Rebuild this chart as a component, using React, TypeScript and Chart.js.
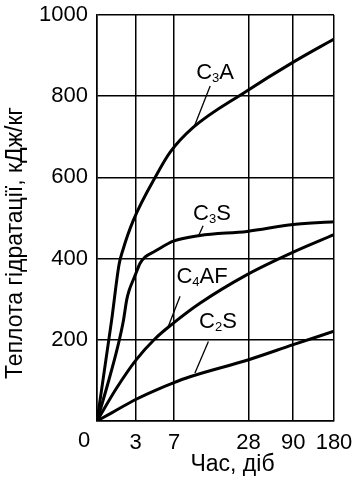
import React, { useEffect, useRef } from 'react';
import { Chart, registerables, LinearScale } from 'chart.js';

// ---- Axis ticks (days) ----
const TICK_DAYS = [0, 3, 7, 28, 90, 180];
const TICK_LABELS = ['0', '3', '7', '28', '90', '180'];
// where each tick day sits along the (non-uniform) time axis, as a fraction of its length
const TICK_FRACTIONS = [0, 0.163, 0.325, 0.639, 0.828, 1];

const Y_TICKS_STEP = 200;
const Y_MAX = 1000;

// ---- Series (x: days, y: kJ/kg) ----
const c3aDays = [0, 1.14, 1.71, 2.0, 2.82, 5.2, 6.6, 12.4, 27, 90, 180];
const c3aHeat = [0, 249, 385, 420, 494, 607, 662, 723, 810, 884, 941];

const c3sDays = [0, 0.78, 1.61, 2.06, 2.31, 2.5, 2.82, 3.1, 3.45, 4.0, 5.0, 6.93, 14.3, 27.6, 90, 180];
const c3sHeat = [0, 85, 183, 249, 299, 322, 348, 368, 388, 404, 418, 443, 457, 467, 484, 491];

const c4afDays = [0, 1.5, 3.03, 5.0, 6.93, 14.3, 27.5, 90, 180];
const c4afHeat = [0, 80, 150, 202, 241, 290, 360, 416, 459];

const c2sDays = [0, 1.14, 3.0, 5.0, 6.93, 11.5, 28.3, 90, 180];
const c2sHeat = [0, 20, 53, 75, 94, 109, 151, 188, 221];

const SERIES_NAMES = ['C₃A', 'C₃S', 'C₄AF', 'C₂S'];

// ---- Curve labels: [main, subscript, main], centre and leader line in data coords ----
const LABEL_PARTS = [
  ['C', '3', 'A'],
  ['C', '3', 'S'],
  ['C', '4', 'AF'],
  ['C', '2', 'S'],
];
const LABEL_CENTER_DAYS = [18.6, 17.7, 14.9, 19.4];
const LABEL_CENTER_HEAT = [862, 514, 360, 249];
const LEADER_FROM_DAYS = [17.2, 15.2, 8.7, 16.7];
const LEADER_FROM_HEAT = [825, 481, 307, 196];
const LEADER_TO_DAYS = [12.6, 13.8, 6.4, 12.9];
const LEADER_TO_HEAT = [723, 454, 233, 118];

const Y_TITLE = 'Теплота гідратації, кДж/кг';
const X_TITLE = 'Час, діб';

const FONT_FAMILY = '"Liberation Sans", Arial, Helvetica, sans-serif';
const INK = '#000';

function dayToAxis(d: number | null): number | null {
  if (d === null || d === undefined || isNaN(d as number)) return d as any;
  const v = d as number;
  const max = TICK_DAYS[TICK_DAYS.length - 1];
  for (let i = 1; i < TICK_DAYS.length; i++) {
    if (v <= TICK_DAYS[i] || i === TICK_DAYS.length - 1) {
      const t = (v - TICK_DAYS[i - 1]) / (TICK_DAYS[i] - TICK_DAYS[i - 1]);
      const f = TICK_FRACTIONS[i - 1] + t * (TICK_FRACTIONS[i] - TICK_FRACTIONS[i - 1]);
      return f * max;
    }
  }
  return v;
}

function axisToDay(a: number): number {
  const max = TICK_DAYS[TICK_DAYS.length - 1];
  const f = a / max;
  for (let i = 1; i < TICK_FRACTIONS.length; i++) {
    if (f <= TICK_FRACTIONS[i] || i === TICK_FRACTIONS.length - 1) {
      const t = (f - TICK_FRACTIONS[i - 1]) / (TICK_FRACTIONS[i] - TICK_FRACTIONS[i - 1]);
      return TICK_DAYS[i - 1] + t * (TICK_DAYS[i] - TICK_DAYS[i - 1]);
    }
  }
  return a;
}

class PiecewiseDayScale extends LinearScale {
  static id = 'piecewiseDay';
  static defaults = (LinearScale as any).defaults;
  getPixelForValue(value: any) {
    return super.getPixelForValue(dayToAxis(value) as any);
  }
  getValueForPixel(pixel: number) {
    return axisToDay(super.getValueForPixel(pixel) as number);
  }
}

Chart.register(...registerables, PiecewiseDayScale as any);

function toPoints(days: number[], heat: number[]) {
  return days.map((d, i) => ({ x: d, y: heat[i] }));
}

function drawSubLabel(ctx: CanvasRenderingContext2D, parts: string[], cx: number, cy: number) {
  const mainFont = `22px ${FONT_FAMILY}`;
  const subFont = `13px ${FONT_FAMILY}`;
  const widths = parts.map((p, i) => {
    ctx.font = i === 1 ? subFont : mainFont;
    return ctx.measureText(p).width;
  });
  const total = widths.reduce((a, b) => a + b, 0);
  let x = cx - total / 2;
  const baseline = cy + 8;
  ctx.textAlign = 'left';
  ctx.textBaseline = 'alphabetic';
  parts.forEach((p, i) => {
    ctx.font = i === 1 ? subFont : mainFont;
    ctx.fillText(p, x, i === 1 ? baseline + 3 : baseline);
    x += widths[i];
  });
}

const annotationPlugin = {
  id: 'hydrationAnnotations',
  afterDraw(chart: any) {
    const { ctx, chartArea } = chart;
    const xs = chart.scales.x;
    const ys = chart.scales.y;
    ctx.save();
    ctx.fillStyle = INK;
    ctx.strokeStyle = INK;

    // leader lines + labels
    ctx.lineWidth = 1.3;
    for (let i = 0; i < LABEL_PARTS.length; i++) {
      ctx.beginPath();
      ctx.moveTo(xs.getPixelForValue(LEADER_FROM_DAYS[i]), ys.getPixelForValue(LEADER_FROM_HEAT[i]));
      ctx.lineTo(xs.getPixelForValue(LEADER_TO_DAYS[i]), ys.getPixelForValue(LEADER_TO_HEAT[i]));
      ctx.stroke();
      drawSubLabel(
        ctx,
        LABEL_PARTS[i],
        xs.getPixelForValue(LABEL_CENTER_DAYS[i]),
        ys.getPixelForValue(LABEL_CENTER_HEAT[i])
      );
    }

    // shared origin label
    ctx.font = `22px ${FONT_FAMILY}`;
    ctx.textAlign = 'center';
    ctx.textBaseline = 'top';
    ctx.fillText(TICK_LABELS[0], chartArea.left - 13, chartArea.bottom + 9);

    // x title
    ctx.font = `23px ${FONT_FAMILY}`;
    ctx.textBaseline = 'middle';
    ctx.fillText(X_TITLE, (chartArea.left + chartArea.right) / 2 + 17, chartArea.bottom + 44);

    // y title
    ctx.translate(chartArea.left - 81, (chartArea.top + chartArea.bottom) / 2 + 25);
    ctx.rotate(-Math.PI / 2);
    ctx.fillText(Y_TITLE, 0, 0);
    ctx.restore();
  },
};

const lineStyle = {
  borderColor: INK,
  borderWidth: 3,
  pointRadius: 0,
  fill: false,
  cubicInterpolationMode: 'monotone' as const,
};

export default function App() {
  const ref = useRef<HTMLCanvasElement | null>(null);

  useEffect(() => {
    document.body.style.margin = '0';
    const canvas = ref.current;
    if (!canvas) return;
    const tickFont = { family: FONT_FAMILY, size: 22 };
    const chart = new Chart(canvas, {
      type: 'line',
      data: {
        datasets: [
          { label: SERIES_NAMES[0], data: toPoints(c3aDays, c3aHeat), ...lineStyle },
          { label: SERIES_NAMES[1], data: toPoints(c3sDays, c3sHeat), ...lineStyle },
          { label: SERIES_NAMES[2], data: toPoints(c4afDays, c4afHeat), ...lineStyle },
          { label: SERIES_NAMES[3], data: toPoints(c2sDays, c2sHeat), ...lineStyle },
        ],
      },
      options: {
        responsive: false,
        animation: false,
        devicePixelRatio: 1,
        layout: { padding: { top: 15, right: 20, bottom: 0, left: 0 } },
        plugins: { legend: { display: false }, tooltip: { enabled: false } },
        scales: {
          x: {
            type: 'piecewiseDay' as any,
            min: TICK_DAYS[0],
            max: TICK_DAYS[TICK_DAYS.length - 1],
            afterBuildTicks: (scale: any) => {
              scale.ticks = TICK_DAYS.map((v) => ({ value: v }));
            },
            afterFit: (scale: any) => {
              scale.height = 56;
              scale.paddingLeft = 0;
              scale.paddingRight = 0;
            },
            ticks: {
              autoSkip: false,
              maxRotation: 0,
              color: INK,
              font: tickFont,
              padding: 9,
              callback: (_v: any, i: number) => (i === 0 ? '' : TICK_LABELS[i]),
            },
            grid: { color: INK, lineWidth: 1.5, drawTicks: false },
            border: { color: INK, width: 1.5 },
          },
          y: {
            min: 0,
            max: Y_MAX,
            afterFit: (scale: any) => {
              scale.width = 97;
              scale.paddingTop = 0;
              scale.paddingBottom = 0;
            },
            ticks: {
              stepSize: Y_TICKS_STEP,
              color: INK,
              font: tickFont,
              padding: 9,
              callback: (v: any) => (v === 0 ? '' : String(v)),
            },
            grid: { color: INK, lineWidth: 1.5, drawTicks: false },
            border: { color: INK, width: 1.5 },
          },
        },
      } as any,
      plugins: [annotationPlugin],
    });
    return () => chart.destroy();
  }, []);

  return (
    <div style={{ width: 354, height: 477 }}>
      <canvas ref={ref} width={354} height={477} style={{ display: 'block' }} />
    </div>
  );
}
